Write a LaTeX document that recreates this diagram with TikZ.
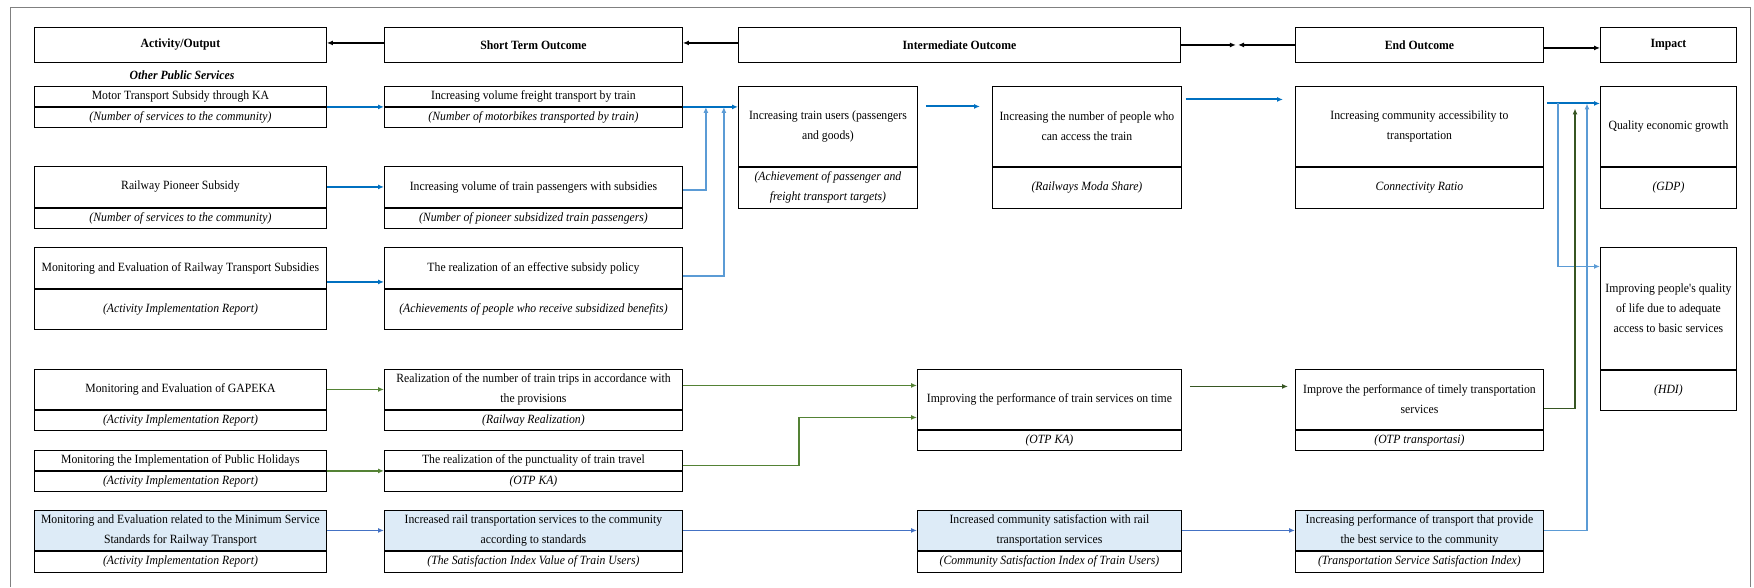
\documentclass[tikz,border=0pt]{standalone}
\usepackage{fontspec}
\setmainfont{Liberation Serif}[FakeStretch=0.93]
\usetikzlibrary{arrows.meta,positioning}
\definecolor{rblue}{HTML}{0070C0}
\definecolor{lblue}{HTML}{5B9BD5}
\definecolor{mgreen}{HTML}{548235}
\definecolor{dgreen}{HTML}{375623}
\definecolor{sblue}{HTML}{4472C4}
\definecolor{cellfill}{HTML}{DDEBF7}
\newcommand{\cellfont}{\fontsize{12.6}{20}\selectfont}

\begin{document}
\begin{tikzpicture}[x=1pt, y=-1pt, >={Latex[length=6pt,width=5pt]},
    cell/.style={draw, line width=0.9pt, align=center, inner sep=0pt, anchor=north west, minimum width=#1, font=\cellfont},
    ind/.style={font=\cellfont\itshape},
    hdr/.style={cell=#1, minimum height=35, font=\cellfont\bfseries},
    lit/.style={fill=cellfill},
    bar/.style={->, line width=2pt, rblue},
    lbar/.style={->, line width=1.3pt, lblue},
    gar/.style={->, line width=1.8pt, mgreen},
    dgar/.style={->, line width=1.8pt, dgreen},
    sbar/.style={->, line width=1.8pt, sblue},
    har/.style={->, line width=1.8pt, black}]
    \useasboundingbox (0,0) rectangle (1754,587);
    \draw[gray, line width=1pt] (10,587) |- (1750,7) -- (1750,587);

    \node[hdr=292] (hact) at (34,27) {Activity/Output};
    \node[hdr=298] (hshort) at (384,27) {Short Term Outcome};
    \node[hdr=442] (hinter) at (738,27) {Intermediate Outcome};
    \node[hdr=248] (hend) at (1295,27) {End Outcome};
    \node[hdr=136] (himp) at (1600,27) {Impact};
    \node[font=\cellfont\bfseries\itshape] (other) at (182,75) {Other Public Services};

    \node[cell=292, minimum height=20] (motor) at (34,86) {Motor Transport Subsidy through KA};
    \node[cell=292, ind, minimum height=20, below=0pt of motor] (motorI) {(Number of services to the community)};
    \node[cell=292, minimum height=41] (pioneer) at (34,166) {Railway Pioneer Subsidy};
    \node[cell=292, ind, minimum height=20, below=0pt of pioneer] (pioneerI) {(Number of services to the community)};
    \node[cell=292, minimum height=41] (monsub) at (34,247) {Monitoring and Evaluation of Railway Transport Subsidies};
    \node[cell=292, ind, minimum height=40, below=0pt of monsub] (monsubI) {(Activity Implementation Report)};
    \node[cell=292, minimum height=40] (gapeka) at (34,369) {Monitoring and Evaluation of GAPEKA};
    \node[cell=292, ind, minimum height=20, below=0pt of gapeka] (gapekaI) {(Activity Implementation Report)};
    \node[cell=292, minimum height=20] (holiday) at (34,450) {Monitoring the Implementation of Public Holidays};
    \node[cell=292, ind, minimum height=20, below=0pt of holiday] (holidayI) {(Activity Implementation Report)};
    \node[cell=292, lit, minimum height=40] (minsvc) at (34,510) {Monitoring and Evaluation related to the Minimum Service\\Standards for Railway Transport};
    \node[cell=292, ind, minimum height=21, below=0pt of minsvc] (minsvcI) {(Activity Implementation Report)};

    \node[cell=298, minimum height=20] (freight) at (384,86) {Increasing volume freight transport by train};
    \node[cell=298, ind, minimum height=20, below=0pt of freight] (freightI) {(Number of motorbikes transported by train)};
    \node[cell=298, minimum height=41] (passg) at (384,166) {Increasing volume of train passengers with subsidies};
    \node[cell=298, ind, minimum height=20, below=0pt of passg] (passgI) {(Number of pioneer subsidized train passengers)};
    \node[cell=298, minimum height=41] (policy) at (384,247) {The realization of an effective subsidy policy};
    \node[cell=298, ind, minimum height=40, below=0pt of policy] (policyI) {(Achievements of people who receive subsidized benefits)};
    \node[cell=298, minimum height=40] (trips) at (384,369) {Realization of the number of train trips in accordance with\\the provisions};
    \node[cell=298, ind, minimum height=20, below=0pt of trips] (tripsI) {(Railway Realization)};
    \node[cell=298, minimum height=20] (punct) at (384,450) {The realization of the punctuality of train travel};
    \node[cell=298, ind, minimum height=20, below=0pt of punct] (punctI) {(OTP KA)};
    \node[cell=298, lit, minimum height=40] (railsvc) at (384,510) {Increased rail transportation services to the community\\according to standards};
    \node[cell=298, ind, minimum height=21, below=0pt of railsvc] (railsvcI) {(The Satisfaction Index Value of Train Users)};

    \node[cell=179, minimum height=80] (users) at (738,86) {Increasing train users (passengers\\and goods)};
    \node[cell=179, ind, minimum height=41, below=0pt of users] (usersI) {(Achievement of passenger and\\freight transport targets)};
    \node[cell=189, minimum height=80] (access) at (992,86) {Increasing the number of people who\\can access the train};
    \node[cell=189, ind, minimum height=41, below=0pt of access] (accessI) {(Railways Moda Share)};
    \node[cell=264, minimum height=60] (otp) at (917,369) {Improving the performance of train services on time};
    \node[cell=264, ind, minimum height=20, below=0pt of otp] (otpI) {(OTP KA)};
    \node[cell=264, lit, minimum height=40] (satisf) at (917,510) {Increased community satisfaction with rail\\transportation services};
    \node[cell=264, ind, minimum height=21, below=0pt of satisf] (satisfI) {(Community Satisfaction Index of Train Users)};

    \node[cell=248, minimum height=80] (commacc) at (1295,86) {Increasing community accessibility to\\transportation};
    \node[cell=248, ind, minimum height=41, below=0pt of commacc] (commaccI) {Connectivity Ratio};
    \node[cell=248, minimum height=60] (timely) at (1295,369) {Improve the performance of timely transportation\\services};
    \node[cell=248, ind, minimum height=20, below=0pt of timely] (timelyI) {(OTP transportasi)};
    \node[cell=248, lit, minimum height=40] (perf) at (1295,510) {Increasing performance of transport that provide\\the best service to the community};
    \node[cell=248, ind, minimum height=21, below=0pt of perf] (perfI) {(Transportation Service Satisfaction Index)};

    \node[cell=136, minimum height=80] (growth) at (1600,86) {Quality economic growth};
    \node[cell=136, ind, minimum height=41, below=0pt of growth] (growthI) {(GDP)};
    \node[cell=136, minimum height=122] (life) at (1600,247) {Improving people\textquotesingle s quality\\of life due to adequate\\access to basic services};
    \node[cell=136, ind, minimum height=40, below=0pt of life] (lifeI) {(HDI)};

    \draw[har] ([yshift=2pt]hshort.west) -- ([yshift=2pt]hact.east);
    \draw[har] ([yshift=2pt]hinter.west) -- ([yshift=2pt]hshort.east);
    \draw[har] (hinter.east) -- ++(55,0);
    \draw[har] (hend.west) -- ++(-57,0);
    \draw[har] ([yshift=-3pt]hend.east) -- ([yshift=-3pt]himp.west);

    \draw[bar] (motor.south east) -- (freight.south west);
    \draw[bar] (pioneer.east) -- (passg.west);
    \draw[bar] ([yshift=-14pt]monsub.east) -- ([yshift=-14pt]policy.west);
    \draw[bar] (freight.south east) -- (freight.south east -| users.west);
    \draw[lbar] ([yshift=-3pt]passg.east) -| ([xshift=23pt]freight.south east);
    \draw[lbar] ([yshift=-8pt]policy.east) -| ([xshift=41pt]freight.south east);
    \draw[bar, shorten <=8pt, shorten >=12pt] ([yshift=20pt]users.east) -- ([yshift=20pt]access.west);
    \draw[bar, shorten <=4pt, shorten >=12pt] ([yshift=27pt]access.east) -- ([yshift=27pt]commacc.west);
    \draw[bar, shorten <=3pt] ([yshift=23pt]commacc.east) -- ([yshift=23pt]growth.west);
    \draw[lbar] ([xshift=14pt,yshift=23pt]commacc.east) |- ([yshift=42pt]life.west);

    \draw[gar] (gapeka.east) -- (trips.west);
    \draw[gar] (holiday.south east) -- (punct.south west);
    \draw[gar] ([yshift=4pt]trips.east) -- ([yshift=4pt]trips.east -| otp.west);
    \draw[gar] ([yshift=-5pt]punct.east) -- ++(116,0) |- ([yshift=-18pt]otp.west);
    \draw[dgar, shorten <=8pt, shorten >=7pt] ([yshift=13pt]otp.east) -- ([yshift=13pt]timely.west);
    \draw[dgar] ([yshift=-9pt]timely.east) -| ([xshift=-25pt,yshift=18pt]growth.west);

    \draw[sbar] (minsvc.east) -- (railsvc.west);
    \draw[sbar] (railsvc.east) -- (satisf.west);
    \draw[sbar] (satisf.east) -- (perf.west);
    \draw[lbar] (perf.east) -| ([xshift=-13pt,yshift=23pt]growth.west);
\end{tikzpicture}
\end{document}
